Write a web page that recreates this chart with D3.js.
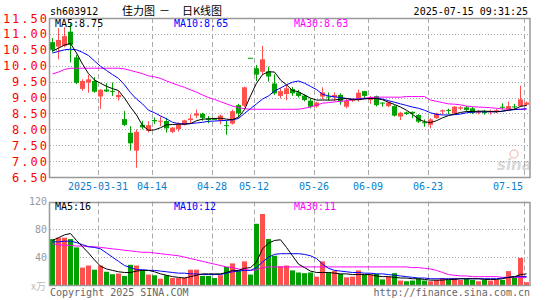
<!DOCTYPE html>
<html>
<head>
<meta charset="utf-8">
<script src="https://cdn.jsdelivr.net/npm/d3@7"></script>
<style>
body { margin:0; background:#fff; }
svg { display:block; }
text { font-family: "DejaVu Sans Mono", monospace; font-size:10px; }
</style>
</head>
<body>
<div id="chart"></div>
<script>
// ---- data ----
var dates = [
	"2025-03-19","2025-03-20","2025-03-21","2025-03-24","2025-03-25","2025-03-26","2025-03-27","2025-03-28","2025-03-31",
	"2025-04-01","2025-04-02","2025-04-03","2025-04-07","2025-04-08","2025-04-09","2025-04-10","2025-04-11",
	"2025-04-14","2025-04-15","2025-04-16","2025-04-17","2025-04-18","2025-04-21","2025-04-22","2025-04-23","2025-04-24","2025-04-25",
	"2025-04-28","2025-04-29","2025-04-30",
	"2025-05-06","2025-05-07","2025-05-08","2025-05-09","2025-05-12","2025-05-13","2025-05-14","2025-05-15","2025-05-16",
	"2025-05-19","2025-05-20","2025-05-21","2025-05-22","2025-05-23","2025-05-26","2025-05-27","2025-05-28","2025-05-29","2025-05-30",
	"2025-06-03","2025-06-04","2025-06-05","2025-06-06","2025-06-09","2025-06-10","2025-06-11","2025-06-12","2025-06-13",
	"2025-06-16","2025-06-17","2025-06-18","2025-06-19","2025-06-20","2025-06-23","2025-06-24","2025-06-25","2025-06-26","2025-06-27",
	"2025-06-30","2025-07-01","2025-07-02","2025-07-03","2025-07-04","2025-07-07","2025-07-08","2025-07-09","2025-07-10","2025-07-11",
	"2025-07-14","2025-07-15"
];
var open  = [10.74,10.60,10.62,11.07,10.26,9.27,9.47,9.52,9.03,9.25, 9.21,9.01,8.32,7.89,7.33,8.14,7.95,8.29,8.24,8.26,
	7.92,8.01,8.15,8.29,8.43,8.49,8.33,8.33,8.27,8.13, 8.18,8.76,8.74,10.25,9.92,9.81,9.82,9.44,9.05,9.11,
	9.27,9.16,9.06,8.90,8.72,9.03,9.03,9.01,9.08,8.71, 8.90,8.92,9.20,8.92,9.04,8.84,8.73,8.73,8.40,8.53,
	8.55,8.45,8.22,8.14,8.35,8.56,8.61,8.50,8.65,8.69, 8.66,8.52,8.55,8.54,8.58,8.71,8.63,8.72,8.73,8.77];
var high  = [10.87,11.18,11.21,11.33,10.34,9.57,9.71,9.64,9.27,9.45, 9.47,9.20,8.58,8.10,8.00,8.27,8.25,8.37,8.40,8.36,
	8.07,8.22,8.30,8.47,8.62,8.52,8.42,8.36,8.46,8.27, 8.62,8.80,9.34,10.25,10.02,10.62,9.97,9.73,9.30,9.40,
	9.33,9.24,9.10,8.98,8.86,9.32,9.16,9.16,9.13,8.97, 8.97,9.25,9.21,9.05,9.06,8.85,8.87,8.76,8.55,8.56,
	8.56,8.48,8.31,8.35,8.52,8.62,8.65,8.73,8.73,8.73, 8.70,8.61,8.61,8.62,8.64,8.82,8.87,8.80,9.37,8.87];
var low   = [10.42,10.20,10.58,10.10,9.42,9.21,9.15,9.15,8.64,9.17, 9.05,8.90,8.10,7.33,6.79,8.00,7.90,8.17,8.10,7.90,
	7.88,7.93,8.12,8.19,8.35,8.27,8.19,8.30,8.16,7.83, 8.15,8.38,8.70,10.25,9.52,9.72,9.50,9.08,8.97,8.92,
	9.05,9.00,8.88,8.66,8.68,8.94,8.90,8.90,8.77,8.66, 8.86,8.87,8.98,8.80,8.72,8.71,8.70,8.40,8.29,8.45,
	8.35,8.20,8.08,8.03,8.33,8.47,8.48,8.48,8.60,8.57, 8.48,8.47,8.46,8.46,8.51,8.62,8.61,8.62,8.71,8.73];
var close = [10.50,10.81,10.93,10.66,9.46,9.52,9.57,9.18,9.24,9.19, 9.19,9.08,8.14,7.56,7.92,8.06,8.13,8.25,8.27,8.03,
	8.05,8.15,8.28,8.34,8.50,8.36,8.29,8.32,8.43,8.10, 8.57,8.50,9.32,10.25,9.72,10.20,9.66,9.13,9.20,9.29,
	9.13,9.05,8.92,8.71,8.84,9.16,9.00,9.08,8.87,8.89, 8.94,9.15,9.05,9.00,8.76,8.82,8.84,8.43,8.52,8.48,
	8.50,8.24,8.20,8.31,8.50,8.60,8.58,8.71,8.69,8.61, 8.52,8.55,8.51,8.58,8.60,8.68,8.73,8.69,8.94,8.84];
// volume, 万手
var volume = [66,68,68,66,54,25,28,22,28,19, 15.5,16.5,13,29,28,21,15,14,9,14,
	10,10,10.5,22,22,13,13,10,14,26, 31,21,34,15,88,102,66,42,27,28,
	21,18,17,18,12,34,18,20,16,11, 12,21,15,15,16,8,12,17,6.4,5.4,
	6.4,9,6.4,5.4,7.3,10,7.3,10,7.3,8.7, 7.3,5.4,7.3,6.4,7.3,7.3,20,12,39,4];
// moving averages as drawn
var ma5 = [10.46,10.55,10.65,10.70,10.40,10.05,9.75,9.55,9.45,9.35, 9.28,9.22,8.98,8.70,8.45,8.12,7.97,7.98,8.05,8.14,
	8.15,8.16,8.16,8.18,8.27,8.32,8.33,8.34,8.35,8.32, 8.30,8.38,8.62,9.05,9.45,9.72,9.81,9.80,9.55,9.40,
	9.22,9.18,9.08,8.98,8.92,8.92,8.92,8.92,8.95,8.97, 8.93,8.93,8.96,8.97,8.97,8.93,8.85,8.78,8.70,8.60,
	8.47,8.32,8.24,8.21,8.27,8.36,8.43,8.48,8.53,8.56, 8.56,8.57,8.57,8.56,8.55,8.57,8.60,8.63,8.72,8.75];
var ma10 = [10.40,10.45,10.50,10.52,10.50,10.42,10.32,10.15,9.98,9.85, 9.72,9.60,9.40,9.15,8.95,8.80,8.60,8.52,8.42,8.33,
	8.22,8.18,8.17,8.18,8.20,8.22,8.25,8.26,8.27,8.28, 8.30,8.34,8.50,8.65,8.80,8.95,9.05,9.20,9.30,9.40,
	9.48,9.52,9.45,9.35,9.25,9.10,9.05,9.02,9.00,8.97, 8.95,8.95,8.96,8.97,8.97,8.95,8.90,8.85,8.80,8.75,
	8.70,8.66,8.60,8.52,8.47,8.45,8.45,8.46,8.48,8.52, 8.54,8.55,8.55,8.55,8.55,8.57,8.60,8.62,8.63,8.65];
var ma30 = [9.74,9.80,9.88,9.92,9.92,9.92,9.92,9.92,9.92,9.92, 9.92,9.92,9.90,9.85,9.80,9.75,9.68,9.65,9.60,9.52,
	9.45,9.38,9.32,9.24,9.17,9.08,9.00,8.94,8.87,8.80, 8.73,8.68,8.65,8.63,8.63,8.63,8.63,8.63,8.63,8.63,
	8.63,8.63,8.66,8.70,8.76,8.82,8.84,8.86,8.88,8.90, 8.93,8.96,8.98,9.00,9.01,9.01,9.01,9.01,9.01,9.03,
	9.03,9.03,9.03,8.92,8.88,8.84,8.80,8.79,8.77,8.73, 8.71,8.70,8.69,8.68,8.66,8.64,8.63,8.63,8.63,8.63];
var volMa5 = [64,68,72,74,64,55,46,36,27,23, 21,19,18,18,20,21,21,19,16,14,
	12,11,10,12,14,16,16,16,16,18, 21,21,24,25,33,52,60,64,65,54,
	42,30,25,20,18,18,18,17,16,16, 15,15,15,15,13,12,12,11,10,10,
	9,9,8,7,7,7,8,8,9,9, 9,9,8,8,8,9,11,12,15,16];
var volMa10 = [62,62,63,63,61,58,55,54,52,46, 40,34,28,25,22,22,21,21,20,19,
	18,17,17,16,16,15,15,15,15,17, 19,20,21,21,25,33,40,44,45,45,
	45,45,44,42,38,30,24,21,20,19, 18,18,17,17,16,16,15,14,13,12,
	11,10,10,9,9,9,9,9,9,9, 9,9,9,9,9,10,11,12,12,12];
var volMa30 = [59,58,57,57,56,56,55,55,54,53, 52,51,50,49,48,47,47,46,45,44,
	43,42,40,38,36,34,32,30,28,26, 25,23,22,21,22,25,26,26,26,26,
	26,26,26,26,26,26,26,26,26,26, 26,26,26,26,26,26,26,26,26,26,
	25,25,24,23,21,18,15,14,13,13, 12,12,12,12,12,11,11,11,11,11];

var priceTicks = [11.5, 11.0, 10.5, 10.0, 9.5, 9.0, 8.5, 8.0, 7.5, 7.0, 6.5];
var volTicks = [120, 80, 40];
var dateTicks = ["2025-03-31","2025-04-14","2025-04-28","2025-05-12","2025-05-26","2025-06-09","2025-06-23","2025-07-15"];

var maLast = {ma5:"8.75", ma10:"8.65", ma30:"8.63", v5:"16", v10:"12", v30:"11"};

// ---- layout ----
var width = 545, height = 300;
var main = {left:50, right:530, top:18, bottom:177};
var vol = {left:50, right:530, top:201.5, bottom:285};

var upColor = "#ff5050", downColor = "#00a000";
var gridColor = "#aaa", borderColor = "#999";

var svg = d3.select("#chart").append("svg")
	.attr("width", width)
	.attr("height", height);

// band scale: step 6px, body 5px, starting at the left border
var x = d3.scaleBand()
	.domain(dates)
	.range([main.left, main.right])
	.paddingInner(1/6)
	.paddingOuter(1/12)
	.align(0);
var y = d3.scaleLinear().domain([6.5, 11.5]).range([main.bottom, main.top]);
var yv = d3.scaleLinear().domain([0, 120]).range([vol.bottom, vol.top]);

function cx(d){ return x(d) + x.bandwidth()/2; }
function isUp(i){ return close[i] > open[i]; }

svg.append("defs").append("clipPath").attr("id", "clipMain")
	.append("rect").attr("x", main.left).attr("y", main.top)
	.attr("width", main.right - main.left).attr("height", main.bottom - main.top);
svg.select("defs").append("clipPath").attr("id", "clipVol")
	.append("rect").attr("x", vol.left).attr("y", vol.top)
	.attr("width", vol.right - vol.left).attr("height", vol.bottom - vol.top);

// ---- grids ----
function drawGrid(box, yTicks, yScale){
	var g = svg.append("g").attr("class", "grid");
	g.selectAll("line.h")
		.data(yTicks)
		.enter().append("line")
		.attr("class", "h")
		.attr("x1", box.left).attr("x2", box.right)
		.attr("y1", function(d){ return Math.round(yScale(d)) + 0.5; })
		.attr("y2", function(d){ return Math.round(yScale(d)) + 0.5; })
		.attr("stroke", gridColor)
		.attr("stroke-dasharray", "1,2");
	g.selectAll("line.v")
		.data(dateTicks)
		.enter().append("line")
		.attr("class", "v")
		.attr("x1", function(d){ return x(d) + 0.5; })
		.attr("x2", function(d){ return x(d) + 0.5; })
		.attr("y1", box.top).attr("y2", box.bottom)
		.attr("stroke", gridColor)
		.attr("stroke-dasharray", "5,3");
}
drawGrid(main, priceTicks.slice(1, -1), y);
drawGrid(vol, [80, 40], yv);

// ---- candles ----
var idx = d3.range(dates.length);
var candles = svg.append("g").attr("clip-path", "url(#clipMain)")
	.selectAll("g.candle")
	.data(idx)
	.enter().append("g")
	.attr("class", "candle");
candles.append("line")
	.attr("x1", function(i){ return Math.floor(cx(dates[i])) + 0.5; })
	.attr("x2", function(i){ return Math.floor(cx(dates[i])) + 0.5; })
	.attr("y1", function(i){ return y(high[i]); })
	.attr("y2", function(i){ return y(low[i]); })
	.attr("stroke", function(i){ return isUp(i) ? upColor : downColor; });
candles.append("rect")
	.attr("x", function(i){ return x(dates[i]); })
	.attr("width", x.bandwidth())
	.attr("y", function(i){ return y(Math.max(open[i], close[i])); })
	.attr("height", function(i){ return Math.max(1, Math.abs(y(open[i]) - y(close[i]))); })
	.attr("fill", function(i){ return isUp(i) ? upColor : downColor; });

// ---- volume bars ----
svg.append("g").selectAll("rect.vol")
	.data(idx)
	.enter().append("rect")
	.attr("class", "vol")
	.attr("x", function(i){ return x(dates[i]); })
	.attr("width", x.bandwidth())
	.attr("y", function(i){ return yv(volume[i]); })
	.attr("height", function(i){ return vol.bottom - yv(volume[i]); })
	.attr("fill", function(i){ return isUp(i) ? upColor : downColor; });

// ---- moving average lines ----
function drawLine(values, yScale, color, clip){
	var line = d3.line()
		.x(function(d, i){ return cx(dates[i]); })
		.y(function(d){ return yScale(d); });
	svg.append("path")
		.datum(values)
		.attr("clip-path", "url(#" + clip + ")")
		.attr("fill", "none")
		.attr("stroke", color)
		.attr("stroke-width", 1)
		.attr("d", line);
}
drawLine(ma30, y, "#ff00ff", "clipMain");
drawLine(ma10, y, "#0000ff", "clipMain");
drawLine(ma5, y, "#000000", "clipMain");
drawLine(volMa30, yv, "#ff00ff", "clipVol");
drawLine(volMa10, yv, "#0000ff", "clipVol");
drawLine(volMa5, yv, "#000000", "clipVol");

// ---- borders ----
[main, vol].forEach(function(b){
	svg.append("rect")
		.attr("x", b.left - 0.5).attr("y", Math.round(b.top) + 0.5)
		.attr("width", b.right - b.left + 0.5)
		.attr("height", Math.round(b.bottom) - Math.round(b.top))
		.attr("fill", "none")
		.attr("stroke", borderColor)
		.attr("stroke-width", 1.5);
});

// ---- axis labels ----
svg.append("g").selectAll("text")
	.data(priceTicks)
	.enter().append("text")
	.attr("x", 49)
	.attr("y", function(d){ return y(d) + 4.5; })
	.attr("text-anchor", "end")
	.attr("fill", "#ff0000")
	.style("font-size", "12px")
	.style("letter-spacing", "2px")
	.text(function(d){ return d3.format(".2f")(d); });

svg.append("g").selectAll("text")
	.data(volTicks)
	.enter().append("text")
	.attr("x", 47)
	.attr("y", function(d){ return yv(d) + 3.5; })
	.attr("text-anchor", "end")
	.attr("fill", "#999")
	.text(function(d){ return d; });
svg.append("text").attr("x", 46).attr("y", 290).attr("text-anchor", "end")
	.attr("fill", "#bbb").style("font-family", "Noto Sans CJK SC").text("x万");

svg.append("g").selectAll("text")
	.data(dateTicks)
	.enter().append("text")
	.attr("x", function(d, i){ return i === dateTicks.length - 1 ? 523 : x(d); })
	.attr("y", 190)
	.attr("text-anchor", function(d, i){ return i === dateTicks.length - 1 ? "end" : "middle"; })
	.attr("fill", "#0a80d0")
	.text(function(d, i){ return i === 0 ? d : d.slice(5); });

// ---- headers ----
svg.append("text").attr("x", 50).attr("y", 15).attr("fill", "#000").text("sh603912");
var title = svg.append("text").attr("y", 15).attr("fill", "#000")
	.style("font-family", "Noto Sans CJK SC").style("font-size", "11px");
title.append("tspan").attr("x", 122).text("佳力图");
title.append("tspan").attr("x", 159).text("－");
title.append("tspan").attr("x", 182).text("日K线图");
svg.append("text").attr("x", 528).attr("y", 15).attr("text-anchor", "end").attr("fill", "#000")
	.text("2025-07-15 09:31:25");

function maLabels(yy, a, b, c){
	svg.append("text").attr("x", 55).attr("y", yy).attr("fill", "#000").text("MA5:" + a);
	svg.append("text").attr("x", 174).attr("y", yy).attr("fill", "#0000ff").text("MA10:" + b);
	svg.append("text").attr("x", 294).attr("y", yy).attr("fill", "#ff00ff").text("MA30:" + c);
}
maLabels(27, maLast.ma5, maLast.ma10, maLast.ma30);
maLabels(210, maLast.v5, maLast.v10, maLast.v30);

svg.append("text").attr("x", 50).attr("y", 296).attr("fill", "#666").text("Copyright 2025 SINA.COM");
svg.append("text").attr("x", 530).attr("y", 296).attr("text-anchor", "end").attr("fill", "#666")
	.text("http://finance.sina.com.cn");

// sina watermark
var wm = svg.append("g").attr("opacity", 0.45);
wm.append("text").attr("x", 497).attr("y", 170)
	.attr("fill", "#aaa")
	.style("font-family", "DejaVu Sans").style("font-size", "15px")
	.style("font-style", "italic").style("font-weight", "bold")
	.text("sina");
wm.append("circle").attr("cx", 514).attr("cy", 154).attr("r", 4)
	.attr("fill", "none").attr("stroke", "#e88").attr("stroke-width", 1.5);
</script>
</body>
</html>
